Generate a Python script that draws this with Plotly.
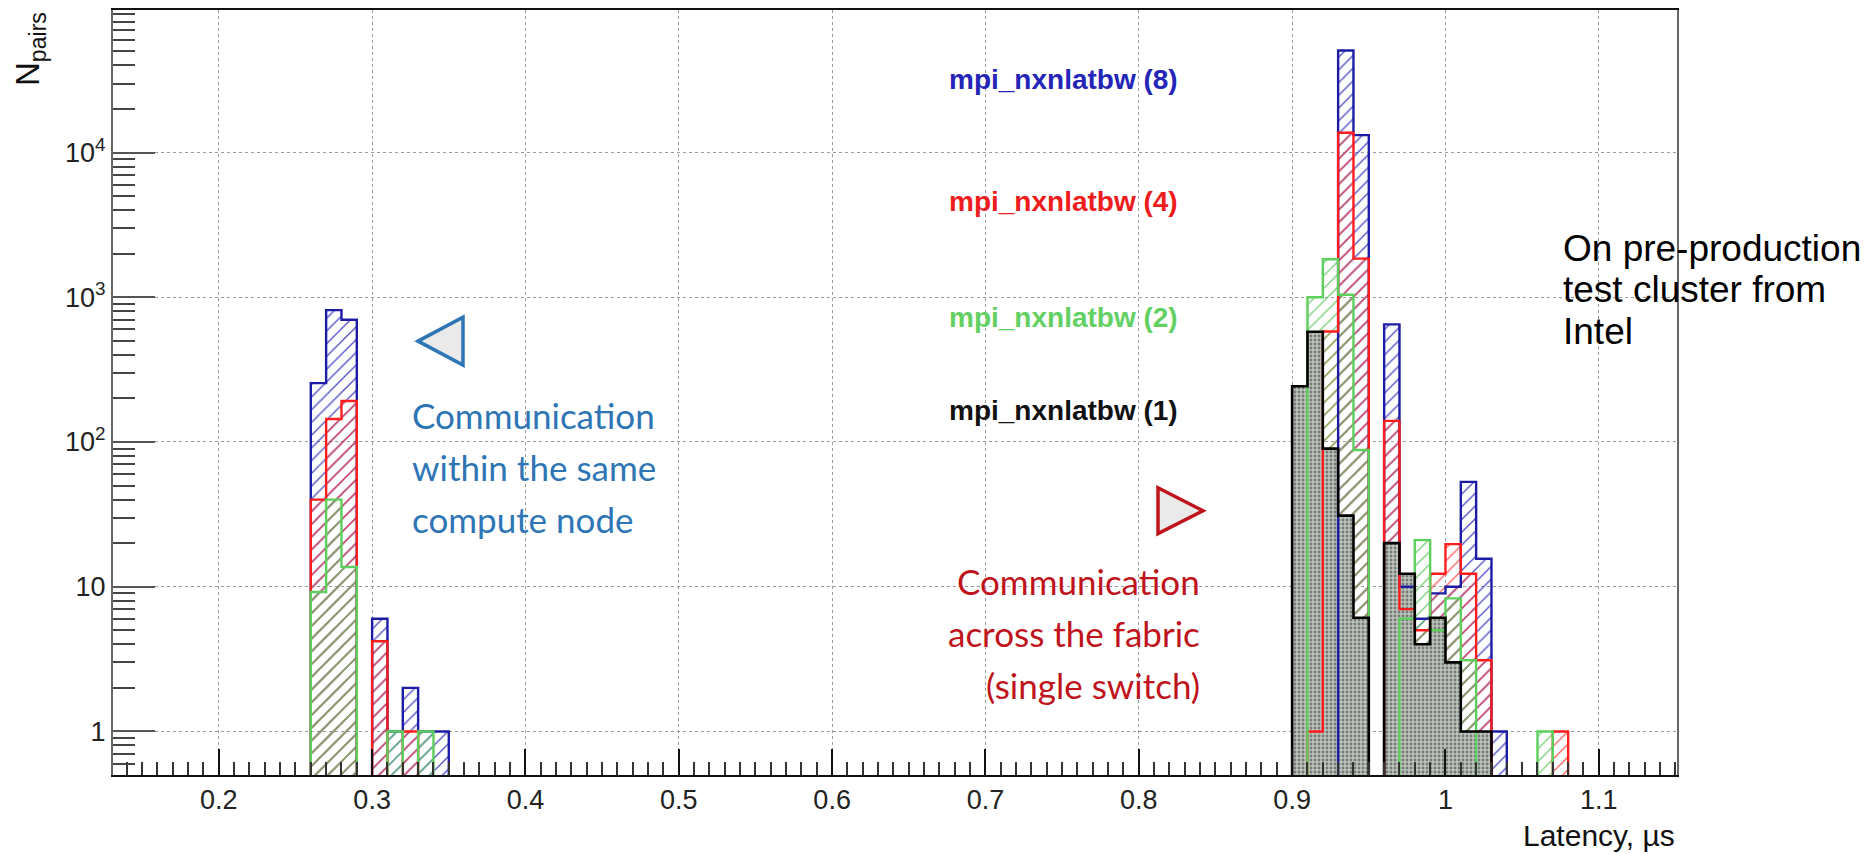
import math
import plotly.graph_objects as go

# ---------------- data (bin lower edge in µs, counts) ----------------
BIN_W = 0.01

blue_lo = [0.26, 0.27, 0.28, 0.30, 0.31, 0.32, 0.33, 0.34,
           0.93, 0.94, 0.96, 0.97, 0.98, 0.99, 1.00, 1.01, 1.02, 1.03]
blue_n = [255, 815, 700, 6, 1, 2, 1, 1,
          50700, 13200, 650, 10, 6, 9, 10, 53, 15.6, 1]

red_lo = [0.26, 0.27, 0.28, 0.30, 0.32,
          0.91, 0.92, 0.93, 0.94, 0.96, 0.97, 0.98, 0.99, 1.00, 1.01, 1.02, 1.07]
red_n = [40, 144, 192, 4.2, 1,
         1, 580, 13700, 1850, 140, 7, 5, 12.3, 19.7, 12.3, 3.1, 1]

green_lo = [0.26, 0.27, 0.28, 0.31, 0.33,
            0.91, 0.92, 0.93, 0.94, 0.97, 0.98, 0.99, 1.00, 1.01, 1.06]
green_n = [9.2, 40, 13.7, 1, 1,
           1000, 1830, 1040, 88, 6, 21, 5, 8.3, 3.1, 1]

black_lo = [0.90, 0.91, 0.92, 0.93, 0.94, 0.96, 0.97, 0.98, 0.99, 1.00, 1.01, 1.02]
black_n = [243, 578, 90, 31, 6.1, 20, 12.3, 4, 6.1, 3, 1, 1]

series_names = ["mpi_nxnlatbw (8)", "mpi_nxnlatbw (4)", "mpi_nxnlatbw (2)", "mpi_nxnlatbw (1)"]

x_ticks = [0.2, 0.3, 0.4, 0.5, 0.6, 0.7, 0.8, 0.9, 1.0, 1.1]
x_ticktext = ["0.2", "0.3", "0.4", "0.5", "0.6", "0.7", "0.8", "0.9", "1", "1.1"]
y_ticks = [1, 10, 100, 1000, 10000]
y_ticktext = ["1", "10", "10<sup>2</sup>", "10<sup>3</sup>", "10<sup>4</sup>"]

# ---------------- geometry ----------------
W, H = 1874, 854
L, R, T, B = 113, 1677, 8, 775
X_RANGE = [0.131, 1.151]
Y_RANGE = [math.log10(0.5), 4.985]


def px(x):
    return (x - L) / (R - L)


def py(y):
    return (B - y) / (B - T)


def step_outline(lo, n, floor=1e-3):
    xs, ys = [], []
    prev_hi = None
    for a, v in zip(lo, n):
        a = round(a, 4)
        b = round(a + BIN_W, 4)
        if prev_hi is None or abs(a - prev_hi) > 1e-6:
            if prev_hi is not None:
                xs.append(prev_hi); ys.append(floor)
            xs.append(a); ys.append(floor)
        xs += [a, b]
        ys += [v, v]
        prev_hi = b
    xs.append(prev_hi); ys.append(floor)
    return xs, ys


fig = go.Figure()

styles = [
    (blue_lo, blue_n, "#1c1ca6", "rgba(40,40,190,0.85)", series_names[0]),
    (red_lo, red_n, "#ff1c1c", "rgba(255,60,60,0.85)", series_names[1]),
    (green_lo, green_n, "#5ccf5c", "rgba(90,200,90,0.85)", series_names[2]),
]

for lo, n, lc, hc, name in styles:
    fig.add_trace(go.Bar(
        x=[round(v + BIN_W / 2, 4) for v in lo], y=n, width=BIN_W,
        marker=dict(color="rgba(0,0,0,0)", line=dict(width=0),
                    pattern=dict(shape="/", fgcolor=hc, bgcolor="rgba(0,0,0,0)",
                                 size=9, solidity=0.14, fillmode="replace")),
        name=name, showlegend=False, hoverinfo="skip"))

fig.add_trace(go.Bar(
    x=[round(v + BIN_W / 2, 4) for v in black_lo], y=black_n, width=BIN_W,
    marker=dict(color="#bcc4bc", line=dict(width=0),
                pattern=dict(shape=".", fgcolor="#303030", size=4, solidity=0.4,
                             fillmode="overlay")),
    name=series_names[3], showlegend=False, hoverinfo="skip"))

for lo, n, lc, hc, name in styles + [(black_lo, black_n, "#000000", None, series_names[3])]:
    xs, ys = step_outline(lo, n)
    fig.add_trace(go.Scatter(x=xs, y=ys, mode="lines",
                             line=dict(color=lc, width=2.4 if lc != "#000000" else 2.6),
                             showlegend=False, hoverinfo="skip"))

axis_font = dict(family="Liberation Sans, Arial, sans-serif", size=27, color="#222")

fig.update_layout(
    width=W, height=H,
    margin=dict(l=L, r=W - R, t=T, b=H - B, pad=0),
    paper_bgcolor="white", plot_bgcolor="white",
    barmode="overlay", bargap=0,
    showlegend=False,
    xaxis=dict(range=X_RANGE, tickmode="array", tickvals=x_ticks, ticktext=x_ticktext,
               ticks="inside", ticklen=26, tickwidth=2, tickcolor="#111",
               showline=True, linecolor="#111", linewidth=2, mirror=True,
               showgrid=True, gridcolor="#9a9a9a", griddash="dot", gridwidth=1,
               zeroline=False, tickfont=axis_font,
               minor=dict(dtick=0.01, tick0=0, ticks="inside", ticklen=13,
                          tickwidth=1.5, tickcolor="#333", showgrid=False)),
    yaxis=dict(type="log", range=Y_RANGE, tickmode="array", tickvals=y_ticks,
               ticktext=y_ticktext,
               ticks="inside", ticklen=42, tickwidth=2, tickcolor="#555",
               showline=True, linecolor="#666", linewidth=2, mirror=True,
               showgrid=True, gridcolor="#9a9a9a", griddash="dot", gridwidth=1,
               zeroline=False, tickfont=axis_font,
               minor=dict(tickmode="array",
                          tickvals=[d * 10 ** k for k in range(-1, 5) for d in range(2, 10)],
                          ticks="inside", ticklen=22, tickwidth=1.5, tickcolor="#444",
                          showgrid=False)),
)

ann = []
legend_cols = ["#2424b8", "#ee1c1c", "#63d063", "#111111"]
legend_y = [78, 200, 316, 410]
for name, col, yy in zip(series_names, legend_cols, legend_y):
    ann.append(dict(text="<b>%s</b>" % name, x=px(1180), y=py(yy), xref="paper", yref="paper",
                    xanchor="right", yanchor="middle", showarrow=False,
                    font=dict(family="Liberation Sans, Arial, sans-serif", size=28, color=col)))

blue_txt = "#2E75B6"
red_txt = "#C0141C"
for line, yy in zip(["Communication", "within the same", "compute node"], [414, 466, 518]):
    ann.append(dict(text=line, x=px(410), y=py(yy), xref="paper", yref="paper",
                    xanchor="left", yanchor="middle", showarrow=False,
                    font=dict(family="Lato, Open Sans, sans-serif", size=35, color=blue_txt)))
for line, yy in zip(["Communication", "across the fabric", "(single switch)"], [580, 633, 685]):
    ann.append(dict(text=line, x=px(1202), y=py(yy), xref="paper", yref="paper",
                    xanchor="right", yanchor="middle", showarrow=False,
                    font=dict(family="Lato, Open Sans, sans-serif", size=35, color=red_txt)))
for line, yy in zip(["On pre-production", "test cluster from", "Intel"], [247, 288, 330]):
    ann.append(dict(text=line, x=px(1561), y=py(yy), xref="paper", yref="paper",
                    xanchor="left", yanchor="middle", showarrow=False,
                    font=dict(family="Liberation Sans, Arial, sans-serif", size=37, color="#000")))

ann.append(dict(text="N<sub>pairs</sub>", textangle=-90, x=px(30), y=py(8),
                xref="paper", yref="paper", xanchor="center", yanchor="top", showarrow=False,
                font=dict(family="Liberation Sans, Arial, sans-serif", size=33, color="#111")))
ann.append(dict(text="Latency, µs", x=px(1677), y=py(836), xref="paper", yref="paper",
                xanchor="right", yanchor="middle", showarrow=False,
                font=dict(family="Liberation Sans, Arial, sans-serif", size=30, color="#111")))
fig.update_layout(annotations=ann)


def tri(points):
    return "M " + " L ".join("%f,%f" % (px(a), py(b)) for a, b in points) + " Z"


fig.add_shape(type="path", xref="paper", yref="paper",
              path=tri([(418, 340), (463, 316), (463, 364)]),
              line=dict(color=blue_txt, width=3.5), fillcolor="#eaeaea")
fig.add_shape(type="path", xref="paper", yref="paper",
              path=tri([(1203, 510), (1158, 487), (1158, 533)]),
              line=dict(color=red_txt, width=3.5), fillcolor="#eaeaea")

fig.write_html("out.html", config={"displayModeBar": False},
               post_script="document.body.style.margin='0';document.body.style.overflow='hidden';")
